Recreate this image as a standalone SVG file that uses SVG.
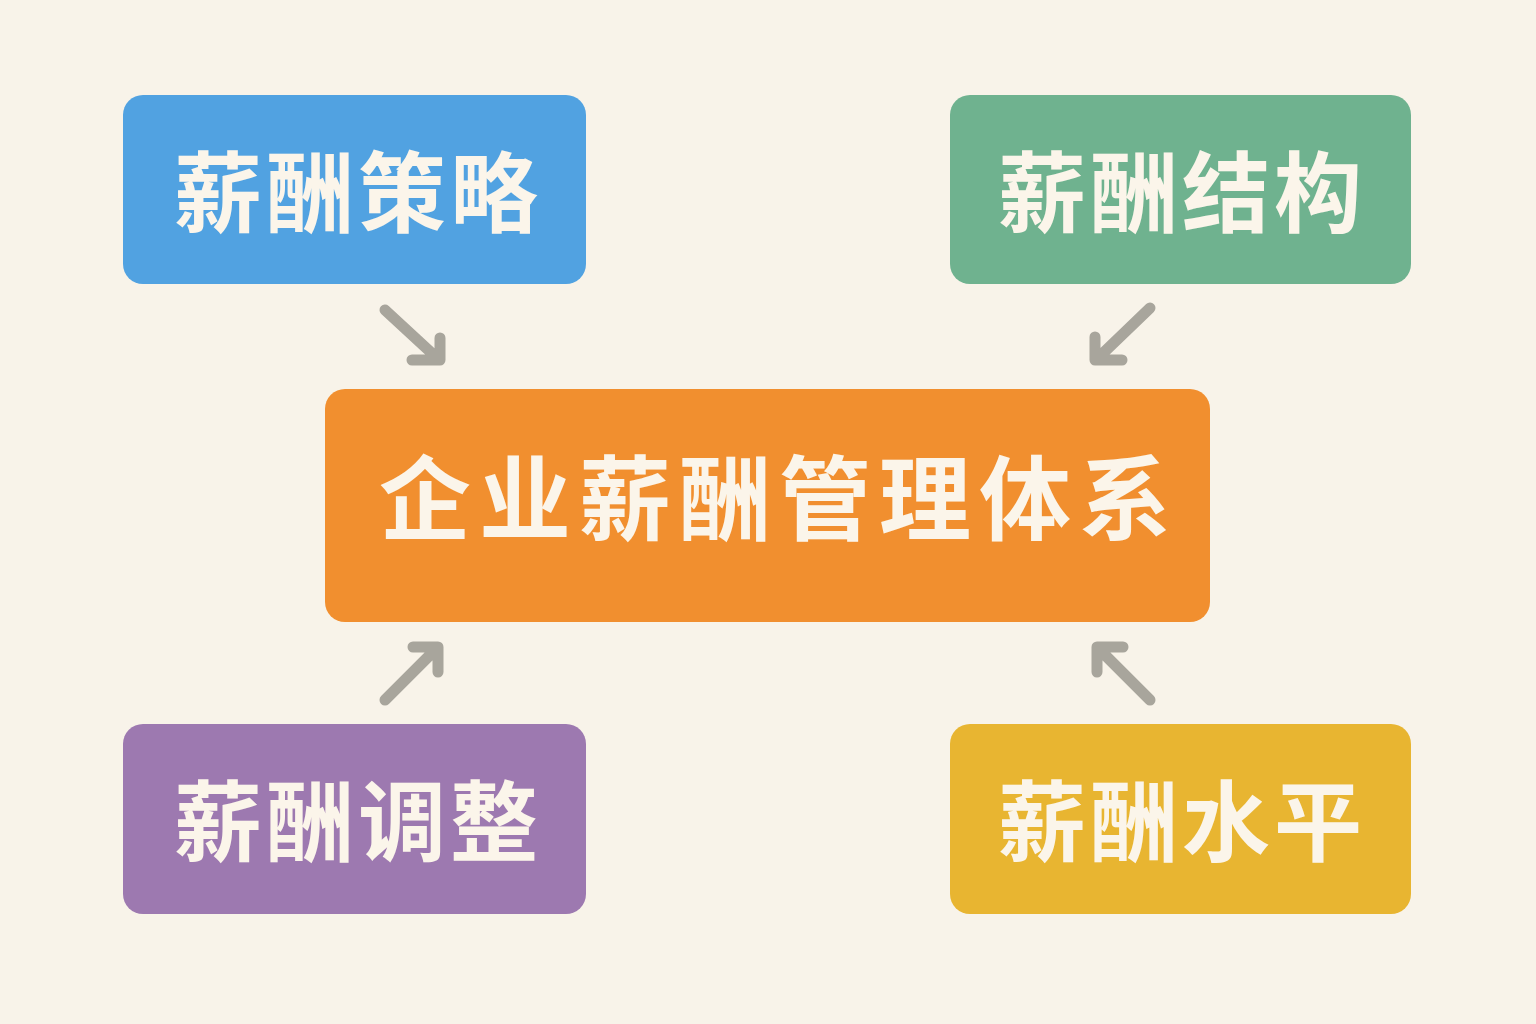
<svg xmlns="http://www.w3.org/2000/svg" width="1536" height="1024" viewBox="0 0 1536 1024">
<style>
.lbl{font-family:"Noto Sans CJK SC","Noto Sans",sans-serif;font-weight:700;fill:#fbf5ea;text-anchor:middle;dominant-baseline:central}
.small{font-size:88px;letter-spacing:4px}
.big{font-size:92px;letter-spacing:8px}
.arr{fill:none;stroke:#a8a59c;stroke-width:11;stroke-linecap:round;stroke-linejoin:round}
</style>
<rect width="1536" height="1024" fill="#f8f3e9"/>
<g id="connectors">
<path class="arr" d="M385 310 L437 358 M412 360 L440 360 L440 338"/>
<path class="arr" d="M1150 308 L1098 358 M1122 360 L1095 360 L1095 337"/>
<path class="arr" d="M385 700 L436 649 M413 647 L438 647 L438 672"/>
<path class="arr" d="M1150 700 L1099 649 M1123 647 L1097 647 L1097 672"/>
</g>
<g id="strategy">
<rect x="123" y="95" width="463" height="189" rx="20" fill="#51a2e1"/>
<text class="lbl small" x="358" y="186">薪酬策略</text>
</g>
<g id="structure">
<rect x="950" y="95" width="461" height="189" rx="20" fill="#6fb28f"/>
<text class="lbl small" x="1182" y="186">薪酬结构</text>
</g>
<g id="system">
<rect x="325" y="389" width="885" height="233" rx="20" fill="#f18f2f"/>
<text class="lbl big" x="779" y="492">企业薪酬管理体系</text>
</g>
<g id="adjust">
<rect x="123" y="724" width="463" height="190" rx="20" fill="#9d79b0"/>
<text class="lbl small" x="358" y="815">薪酬调整</text>
</g>
<g id="level">
<rect x="950" y="724" width="461" height="190" rx="20" fill="#e8b531"/>
<text class="lbl small" x="1182" y="815">薪酬水平</text>
</g>
</svg>
